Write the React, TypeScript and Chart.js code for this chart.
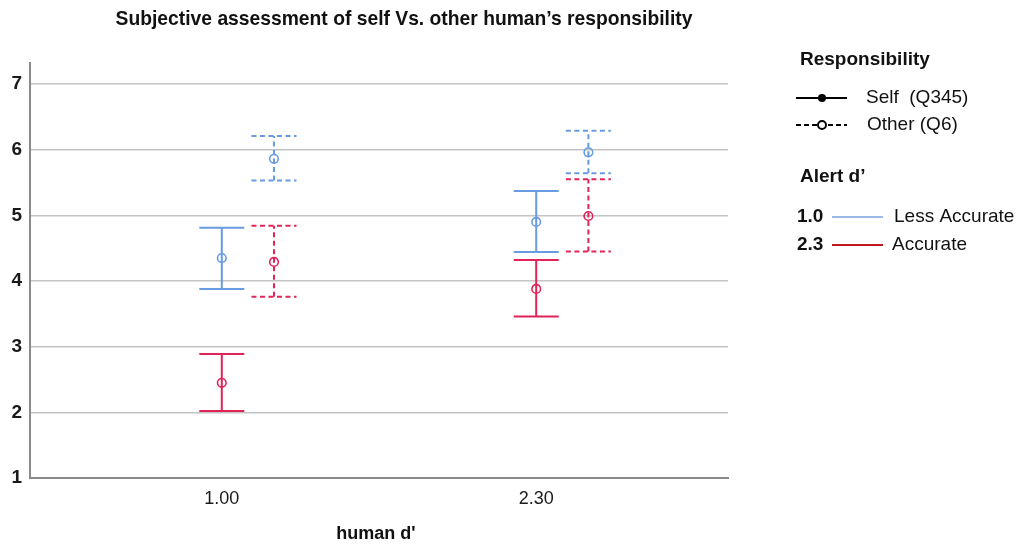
import React, { useEffect, useRef } from "react";
import { Chart, registerables } from "chart.js";

Chart.register(...registerables);

const categories = ["1.00", "2.30"];
const yTickValues = [1, 2, 3, 4, 5, 6, 7];

// Self (Q345), Alert d' 1.0 (Less Accurate)
const selfLessMean = [4.35, 4.9];
const selfLessLow = [3.88, 4.44];
const selfLessHigh = [4.81, 5.37];
// Other (Q6), Alert d' 1.0
const otherLessMean = [5.86, 5.96];
const otherLessLow = [5.53, 5.64];
const otherLessHigh = [6.21, 6.29];
// Self (Q345), Alert d' 2.3 (Accurate)
const selfAccMean = [2.45, 3.88];
const selfAccLow = [2.02, 3.46];
const selfAccHigh = [2.89, 4.32];
// Other (Q6), Alert d' 2.3
const otherAccMean = [4.29, 4.99];
const otherAccLow = [3.76, 4.45];
const otherAccHigh = [4.84, 5.55];

const BLUE = "rgb(104,156,226)";
const RED = "rgb(224,36,88)";
const FONT = "Arial, 'Liberation Sans', sans-serif";
const OTHER_SHIFT = 0.166;
const CAP_HALF = 22.5;

function build(mean: number[], low: number[], high: number[], shift: number) {
  return mean.map((m, i) => ({ x: i + shift, y: m, low: low[i], high: high[i] }));
}

const errorBarPlugin = {
  id: "errorBars",
  beforeDatasetsDraw(chart: any) {
    const ctx = chart.ctx;
    const xs = chart.scales.x;
    const ys = chart.scales.y;
    chart.data.datasets.forEach((ds: any) => {
      ctx.save();
      ctx.strokeStyle = ds.borderColor;
      ctx.lineWidth = 2;
      ctx.setLineDash(ds.dashed ? [5, 3.5] : []);
      ds.data.forEach((p: any) => {
        const px = xs.getPixelForValue(p.x);
        const pl = ys.getPixelForValue(p.low);
        const ph = ys.getPixelForValue(p.high);
        ctx.beginPath();
        ctx.moveTo(px, pl);
        ctx.lineTo(px, ph);
        ctx.moveTo(px - CAP_HALF, pl);
        ctx.lineTo(px + CAP_HALF, pl);
        ctx.moveTo(px - CAP_HALF, ph);
        ctx.lineTo(px + CAP_HALF, ph);
        ctx.stroke();
      });
      ctx.restore();
    });
  },
};

const textPlugin = {
  id: "texts",
  afterDraw(chart: any) {
    const ctx = chart.ctx;
    ctx.save();
    ctx.fillStyle = "#111";
    ctx.textBaseline = "middle";
    // title
    ctx.font = `bold 19.3px ${FONT}`;
    ctx.textAlign = "center";
    ctx.fillText("Subjective assessment of self Vs. other human\u2019s responsibility", 404, 20);
    // x axis title
    ctx.font = `bold 18px ${FONT}`;
    ctx.fillText("human d'", 376, 534);

    ctx.textAlign = "left";
    ctx.font = `bold 19px ${FONT}`;
    ctx.fillText("Responsibility", 800, 60);

    // Self legend
    ctx.strokeStyle = "#000";
    ctx.lineWidth = 2;
    ctx.beginPath();
    ctx.moveTo(796, 98);
    ctx.lineTo(847, 98);
    ctx.stroke();
    ctx.beginPath();
    ctx.arc(822, 98, 4, 0, Math.PI * 2);
    ctx.fillStyle = "#000";
    ctx.fill();
    ctx.font = `19px ${FONT}`;
    ctx.fillStyle = "#111";
    ctx.fillText("Self  (Q345)", 866, 98);

    // Other legend
    ctx.setLineDash([5, 3]);
    ctx.beginPath();
    ctx.moveTo(796, 125);
    ctx.lineTo(847, 125);
    ctx.stroke();
    ctx.setLineDash([]);
    ctx.beginPath();
    ctx.arc(822, 125, 4, 0, Math.PI * 2);
    ctx.fillStyle = "#fff";
    ctx.fill();
    ctx.stroke();
    ctx.fillStyle = "#111";
    ctx.fillText("Other (Q6)", 867, 125);

    ctx.font = `bold 19px ${FONT}`;
    ctx.fillText("Alert d\u2019", 800, 177);

    ctx.fillText("1.0", 797, 217);
    ctx.fillText("2.3", 797, 245);
    ctx.lineWidth = 2;
    ctx.strokeStyle = "rgb(156,184,232)";
    ctx.beginPath();
    ctx.moveTo(832, 217);
    ctx.lineTo(883, 217);
    ctx.stroke();
    ctx.strokeStyle = "rgb(192,22,30)";
    ctx.beginPath();
    ctx.moveTo(832, 245);
    ctx.lineTo(883, 245);
    ctx.stroke();
    ctx.font = `19px ${FONT}`;
    ctx.fillText("Less Accurate", 894, 217);
    ctx.fillText("Accurate", 892, 245);
    ctx.restore();
  },
};

export default function App() {
  const ref = useRef<HTMLCanvasElement>(null);
  useEffect(() => {
    if (!ref.current) return;
    const mk = (label: string, data: any[], color: string, dashed: boolean) => ({
      label,
      data,
      borderColor: color,
      backgroundColor: "rgba(0,0,0,0)",
      pointRadius: 4.3,
      pointBorderWidth: 1.6,
      pointHoverRadius: 4.3,
      showLine: false,
      dashed,
    });
    const chart = new Chart(ref.current, {
      type: "scatter",
      data: {
        datasets: [
          mk("Self Less Accurate", build(selfLessMean, selfLessLow, selfLessHigh, 0), BLUE, false),
          mk("Other Less Accurate", build(otherLessMean, otherLessLow, otherLessHigh, OTHER_SHIFT), BLUE, true),
          mk("Self Accurate", build(selfAccMean, selfAccLow, selfAccHigh, 0), RED, false),
          mk("Other Accurate", build(otherAccMean, otherAccLow, otherAccHigh, OTHER_SHIFT), RED, true),
        ] as any,
      },
      options: {
        animation: false,
        responsive: true,
        maintainAspectRatio: false,
        layout: { padding: { top: 63, right: 293, left: 0, bottom: 0 } },
        plugins: { legend: { display: false }, tooltip: { enabled: false }, title: { display: false } },
        scales: {
          x: {
            type: "linear",
            min: -0.61,
            max: 1.61,
            afterBuildTicks: (s: any) => {
              s.ticks = categories.map((_, i) => ({ value: i }));
            },
            afterFit: (s: any) => {
              s.height = 68;
            },
            grid: { display: false, drawTicks: false },
            border: { display: true, color: "#8a8a8a", width: 2 },
            ticks: {
              padding: 10,
              color: "#1a1a1a",
              font: { size: 18, family: FONT },
              callback: (v: any) => categories[Math.round(Number(v))] ?? "",
            },
          },
          y: {
            min: 1,
            max: 7.32,
            afterBuildTicks: (s: any) => {
              s.ticks = yTickValues.map((v) => ({ value: v }));
            },
            afterFit: (s: any) => {
              s.width = 30;
            },
            grid: { color: "#c4c4c4", lineWidth: 1.5, drawTicks: false },
            border: { display: true, color: "#8a8a8a", width: 2 },
            ticks: {
              padding: 8,
              color: "#1a1a1a",
              font: { size: 19, family: FONT, weight: "bold" },
              callback: (v: any) => String(v),
            },
          },
        },
      },
      plugins: [errorBarPlugin, textPlugin],
    } as any);
    return () => chart.destroy();
  }, []);
  return (
    <div style={{ position: "fixed", left: 0, top: 0, width: 1021, height: 546, background: "#fff" }}>
      <canvas ref={ref} />
    </div>
  );
}
